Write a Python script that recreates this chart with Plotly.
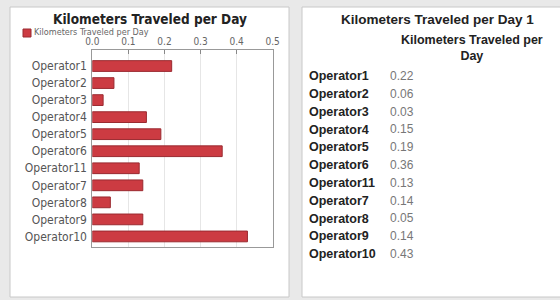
import plotly.graph_objects as go

operators = ["Operator1", "Operator2", "Operator3", "Operator4", "Operator5", "Operator6",
             "Operator11", "Operator7", "Operator8", "Operator9", "Operator10"]
km_per_day = [0.22, 0.06, 0.03, 0.15, 0.19, 0.36, 0.13, 0.14, 0.05, 0.14, 0.43]
x_ticks = [0.0, 0.1, 0.2, 0.3, 0.4, 0.5]
x_tick_labels = ["0.0", "0.1", "0.2", "0.3", "0.4", "0.5"]
series_name = "Kilometers Traveled per Day"
left_title = "Kilometers Traveled per Day"
right_title = "Kilometers Traveled per Day 1"
table_header = "Kilometers Traveled per<br>Day"

W, H = 560, 300
def px(x): return x / W
def py(y): return 1 - y / H

fig = go.Figure()

# left: horizontal bar chart
fig.add_trace(go.Bar(
    x=km_per_day, y=operators, orientation="h", name=series_name,
    marker=dict(color="#cc3b42", line=dict(color="#9a2a30", width=1)),
    width=0.63, showlegend=False, xaxis="x", yaxis="y",
))

# right: table drawn as text on its own axes
fig.add_trace(go.Scatter(
    x=[0] * len(operators), y=operators, mode="text",
    text=["<b>" + o + "</b>" for o in operators], textposition="middle right",
    textfont=dict(family="Liberation Sans, Arial", size=12.5, color="#222"),
    showlegend=False, hoverinfo="skip", xaxis="x2", yaxis="y2",
))
fig.add_trace(go.Scatter(
    x=[1] * len(operators), y=operators, mode="text",
    text=[f"{v:.2f}" for v in km_per_day], textposition="middle right",
    textfont=dict(family="Liberation Sans, Arial", size=12, color="#777"),
    showlegend=False, hoverinfo="skip", xaxis="x2", yaxis="y2",
))

shapes = [
    dict(type="rect", xref="paper", yref="paper", x0=px(10), x1=px(289), y0=py(297), y1=py(7),
         fillcolor="white", line=dict(color="#c8c8c8", width=1), layer="below"),
    dict(type="rect", xref="paper", yref="paper", x0=px(302), x1=px(562), y0=py(297), y1=py(7),
         fillcolor="white", line=dict(color="#c8c8c8", width=1), layer="below"),
    # legend swatch
    dict(type="rect", xref="paper", yref="paper", x0=px(23), x1=px(31), y0=py(37), y1=py(29),
         fillcolor="#cc3b42", line=dict(color="#9a2a30", width=1)),
]

annotations = [
    dict(text="<b>" + left_title + "</b>", xref="paper", yref="paper", x=px(150), y=py(19),
         showarrow=False, xanchor="center", yanchor="middle",
         font=dict(family="DejaVu Sans Condensed, DejaVu Sans", size=13.5, color="#222")),
    dict(text=series_name, xref="paper", yref="paper", x=px(32), y=py(32),
         showarrow=False, xanchor="left", yanchor="middle",
         font=dict(family="DejaVu Sans Condensed, DejaVu Sans", size=9, color="#666")),
    dict(text="<b>" + right_title + "</b>", xref="paper", yref="paper", x=px(437), y=py(20),
         showarrow=False, xanchor="center", yanchor="middle",
         font=dict(family="Liberation Sans, Arial", size=13.5, color="#222")),
    dict(text="<b>" + table_header + "</b>", xref="paper", yref="paper", x=px(472), y=py(48),
         showarrow=False, xanchor="center", yanchor="middle", align="center",
         font=dict(family="Liberation Sans, Arial", size=12.5, color="#222")),
]

fig.update_layout(
    width=W, height=H,
    margin=dict(l=0, r=0, t=0, b=0),
    paper_bgcolor="#e9e9e9", plot_bgcolor="white",
    shapes=shapes, annotations=annotations,
    xaxis=dict(domain=[px(92.3), px(272.7)], range=[0, 0.5], side="top",
               tickvals=x_ticks, ticktext=x_tick_labels,
               showgrid=True, gridcolor="#e6e6e6", gridwidth=1,
               ticks="inside", ticklen=4, tickcolor="#888",
               showline=True, linecolor="#999", mirror=True, zeroline=False,
               tickfont=dict(family="DejaVu Sans Condensed, DejaVu Sans", size=10, color="#666"),
               automargin=False),
    yaxis=dict(domain=[py(247), py(50)], range=[10.62, -0.94],
               categoryorder="array", categoryarray=operators,
               showgrid=False, ticks="", showline=True, linecolor="#999", mirror=True,
               tickfont=dict(family="DejaVu Sans Condensed, DejaVu Sans", size=12, color="#555"),
               ticklabelstandoff=2, automargin=False),
    xaxis2=dict(domain=[px(303), px(556)], range=[-0.074, 3.049], visible=False,
                anchor="y2"),
    yaxis2=dict(domain=[py(292), py(68)], range=[12.08, -0.506], visible=False,
                categoryorder="array", categoryarray=operators, anchor="x2"),
)

fig.write_html("out.html", config={"displayModeBar": False},
               post_script="document.body.style.margin='0';")
